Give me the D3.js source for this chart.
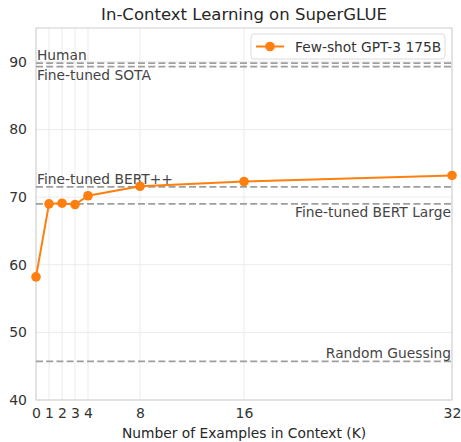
<!DOCTYPE html>
<html><head><meta charset="utf-8">
<script src="https://cdn.jsdelivr.net/npm/d3@7"></script>
<style>body{margin:0;background:#fff}text{font-family:"DejaVu Sans",sans-serif}</style>
</head><body><svg id="c" width="461" height="442"></svg>
<script>
const kValues = [0, 1, 2, 3, 4, 8, 16, 32];
const gpt3Scores = [58.2, 69.0, 69.1, 68.9, 70.2, 71.6, 72.3, 73.2];
const xTicks = [0, 1, 2, 3, 4, 8, 16, 32];
const yTicks = [40, 50, 60, 70, 80, 90];
const refNames = ["Human", "Fine-tuned SOTA", "Fine-tuned BERT++", "Fine-tuned BERT Large", "Random Guessing"];
const refValues = [89.8, 89.3, 71.5, 69.0, 45.7];
const refLabelSide = ["left-above", "left-below", "left-above", "right-below", "right-above"];

const svg = d3.select("#c");
const m = {l: 36, r: 9, t: 28, b: 42};
const W = 461, H = 442;
const x = d3.scaleLinear().domain([0, 32]).range([m.l, W - m.r]);
const y = d3.scaleLinear().domain([40, 95]).range([H - m.b, m.t]);

// grid
svg.append("g").selectAll("line").data(xTicks).join("line")
  .attr("x1", d => x(d)).attr("x2", d => x(d)).attr("y1", y(40)).attr("y2", y(95))
  .attr("stroke", "#ebebeb").attr("stroke-width", 1);
svg.append("g").selectAll("line").data(yTicks).join("line")
  .attr("y1", d => y(d)).attr("y2", d => y(d)).attr("x1", x(0)).attr("x2", x(32))
  .attr("stroke", "#ebebeb").attr("stroke-width", 1);

// frame
svg.append("rect").attr("x", x(0)).attr("y", y(95)).attr("width", x(32) - x(0)).attr("height", y(40) - y(95))
  .attr("fill", "none").attr("stroke", "#d6d6d6").attr("stroke-width", 1.2);

// axes
const xAxis = svg.append("g").attr("transform", `translate(0,${y(40)})`)
  .call(d3.axisBottom(x).tickValues(xTicks).tickSize(0).tickPadding(8));
const yAxis = svg.append("g").attr("transform", `translate(${x(0)},0)`)
  .call(d3.axisLeft(y).tickValues(yTicks).tickSize(0).tickPadding(9));
[xAxis, yAxis].forEach(a => {
  a.select(".domain").remove();
  a.selectAll("text").attr("font-size", 14).attr("fill", "#333").attr("font-family", "DejaVu Sans");
});

// reference lines
refValues.forEach((v, i) => {
  svg.append("line").attr("x1", x(0)).attr("x2", x(32)).attr("y1", y(v)).attr("y2", y(v))
    .attr("stroke", "#9e9e9e").attr("stroke-width", 1.8).attr("stroke-dasharray", "7,3.2");
  const side = refLabelSide[i];
  const t = svg.append("text").text(refNames[i]).attr("font-size", 13.8).attr("fill", "#444");
  if (side.startsWith("left")) t.attr("x", x(0) + 1).attr("text-anchor", "start");
  else t.attr("x", x(32) - 1).attr("text-anchor", "end");
  if (side.endsWith("above")) t.attr("y", y(v) - 3);
  else t.attr("y", y(v) + 13);
});

// series
const pts = kValues.map((k, i) => [k, gpt3Scores[i]]);
svg.append("path").datum(pts)
  .attr("d", d3.line().x(d => x(d[0])).y(d => y(d[1])))
  .attr("fill", "none").attr("stroke", "#ff7f0e").attr("stroke-width", 2);
svg.append("g").selectAll("circle").data(pts).join("circle")
  .attr("cx", d => x(d[0])).attr("cy", d => y(d[1])).attr("r", 4.8).attr("fill", "#ff7f0e");

// title and label
svg.append("text").attr("x", (x(0) + x(32)) / 2).attr("y", 20).attr("text-anchor", "middle")
  .attr("font-size", 16.5).attr("fill", "#262626").text("In-Context Learning on SuperGLUE");
svg.append("text").attr("x", (x(0) + x(32)) / 2).attr("y", 438).attr("text-anchor", "middle")
  .attr("font-size", 13.8).attr("fill", "#262626").text("Number of Examples in Context (K)");

// legend
const lg = svg.append("g");
lg.append("rect").attr("x", 251).attr("y", 34).attr("width", 194).attr("height", 25).attr("rx", 3)
  .attr("fill", "#fff").attr("fill-opacity", 0.85).attr("stroke", "#dcdcdc");
lg.append("line").attr("x1", 256).attr("x2", 284).attr("y1", 46.5).attr("y2", 46.5)
  .attr("stroke", "#ff7f0e").attr("stroke-width", 2);
lg.append("circle").attr("cx", 270).attr("cy", 46.5).attr("r", 4.8).attr("fill", "#ff7f0e");
lg.append("text").attr("x", 295).attr("y", 51.5).attr("font-size", 13.8).attr("fill", "#333").text("Few-shot GPT-3 175B");
</script></body></html>
